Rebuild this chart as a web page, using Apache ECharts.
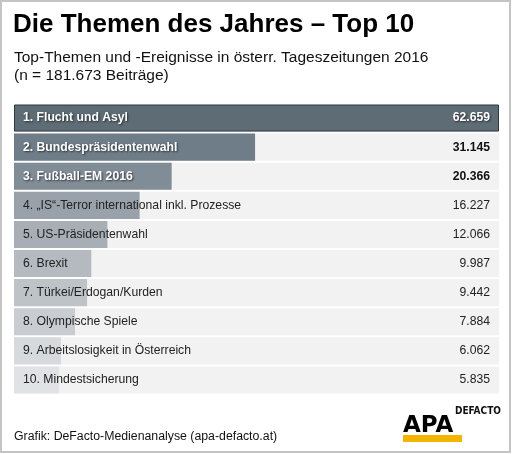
<!DOCTYPE html>
<html>
<head>
<meta charset="utf-8">
<script src="https://cdn.jsdelivr.net/npm/echarts@6/dist/echarts.min.js"></script>
<style>
  html, body { margin:0; padding:0; background:#fff; }
  #chart { width:512px; height:454px; }
</style>
</head>
<body>
<div id="chart"></div>
<script>
// Daten
const categories = [
  '1. Flucht und Asyl',
  '2. Bundespräsidentenwahl',
  '3. Fußball-EM 2016',
  '4. „IS“-Terror international inkl. Prozesse',
  '5. US-Präsidentenwahl',
  '6. Brexit',
  '7. Türkei/Erdogan/Kurden',
  '8. Olympische Spiele',
  '9. Arbeitslosigkeit in Österreich',
  '10. Mindestsicherung'
];
const values = [62659, 31145, 20366, 16227, 12066, 9987, 9442, 7884, 6062, 5835];

// Farben je Zeile (dunkel -> hell)
const barColors = ['#5e6c76', '#6f7d88', '#808c96', '#99a2aa', '#a7aeb5', '#b4bac0',
  '#bec3c8', '#c9cdd1', '#d7dadd', '#e0e2e5'];
const boldRows = 3;

const fmt = v => String(v).replace(/\B(?=(\d{3})+(?!\d))/g, '.');
const maxVal = Math.max(...values);
const font = '"Liberation Sans", Arial, sans-serif';

var chart = echarts.init(document.getElementById('chart'));

chart.setOption({
  animation: false,
  backgroundColor: '#fff',
  grid: { left: 14, right: 13, top: 103.5, bottom: 59.5 },
  xAxis: { type: 'value', min: 0, max: maxVal, show: false },
  yAxis: {
    type: 'category', data: categories, inverse: true, show: false
  },
  series: [
    {
      type: 'bar',
      barCategoryGap: '7%',
      showBackground: true,
      backgroundStyle: { color: '#f2f2f2' },
      data: values.map((v, i) => ({
        value: v,
        itemStyle: {
          color: barColors[i],
          borderColor: i === 0 ? '#2e3940' : barColors[i],
          borderWidth: i === 0 ? 1 : 0
        },
        label: i < boldRows ? {
          fontWeight: 'bold',
          color: '#fff',
          textShadowColor: 'rgba(0,0,0,0.6)',
          textShadowBlur: 2,
          textShadowOffsetX: 1,
          textShadowOffsetY: 1
        } : {}
      })),
      label: {
        show: true,
        position: 'insideLeft',
        distance: 9,
        fontFamily: font,
        fontSize: 12.2,
        color: '#222',
        formatter: p => categories[p.dataIndex]
      },
      z: 2
    },
    {
      // unsichtbare volle Zeilen nur für die Werte rechts
      type: 'bar',
      barGap: '-100%',
      barCategoryGap: '7%',
      silent: true,
      data: values.map((v, i) => ({
        value: maxVal,
        label: i < boldRows ? {
          fontWeight: 'bold',
          color: i === 0 ? '#fff' : '#111',
          textShadowColor: i === 0 ? 'rgba(0,0,0,0.6)' : 'transparent',
          textShadowBlur: i === 0 ? 2 : 0,
          textShadowOffsetX: i === 0 ? 1 : 0,
          textShadowOffsetY: i === 0 ? 1 : 0
        } : {}
      })),
      itemStyle: { color: 'rgba(0,0,0,0)' },
      label: {
        show: true,
        position: 'insideRight',
        distance: 9,
        fontFamily: font,
        fontSize: 12.2,
        color: '#222',
        formatter: p => fmt(values[p.dataIndex])
      },
      z: 3
    }
  ],
  graphic: [
    {
      type: 'rect', silent: true,
      shape: { x: 1, y: 1, width: 509, height: 451 },
      style: { fill: 'none', stroke: '#c4c4c4', lineWidth: 2 }
    },
    {
      type: 'text', left: 13, top: 12,
      style: { text: 'Die Themen des Jahres – Top 10', font: 'bold 26px ' + font, fill: '#000' }
    },
    {
      type: 'text', left: 14, top: 50,
      style: { text: 'Top-Themen und -Ereignisse in österr. Tageszeitungen 2016', font: '15.5px ' + font, fill: '#111' }
    },
    {
      type: 'text', left: 14, top: 68,
      style: { text: '(n = 181.673 Beiträge)', font: '15.5px ' + font, fill: '#111' }
    },
    {
      type: 'text', left: 14, top: 431,
      style: { text: 'Grafik: DeFacto-Medienanalyse (apa-defacto.at)', font: '12.3px ' + font, fill: '#111' }
    },
    {
      type: 'rect', silent: true,
      shape: { x: 403, y: 435, width: 59, height: 7 },
      style: { fill: '#f4b400' }
    },
    {
      type: 'text', left: 403, top: 415,
      style: { text: 'APA', font: 'bold 23px "DejaVu Sans", ' + font, fill: '#000' }
    },
    {
      type: 'text', left: 455, top: 406,
      style: { text: 'DEFACTO', font: 'bold 10px "DejaVu Sans Condensed", ' + font, fill: '#111' }
    }
  ]
});
</script>
</body>
</html>
